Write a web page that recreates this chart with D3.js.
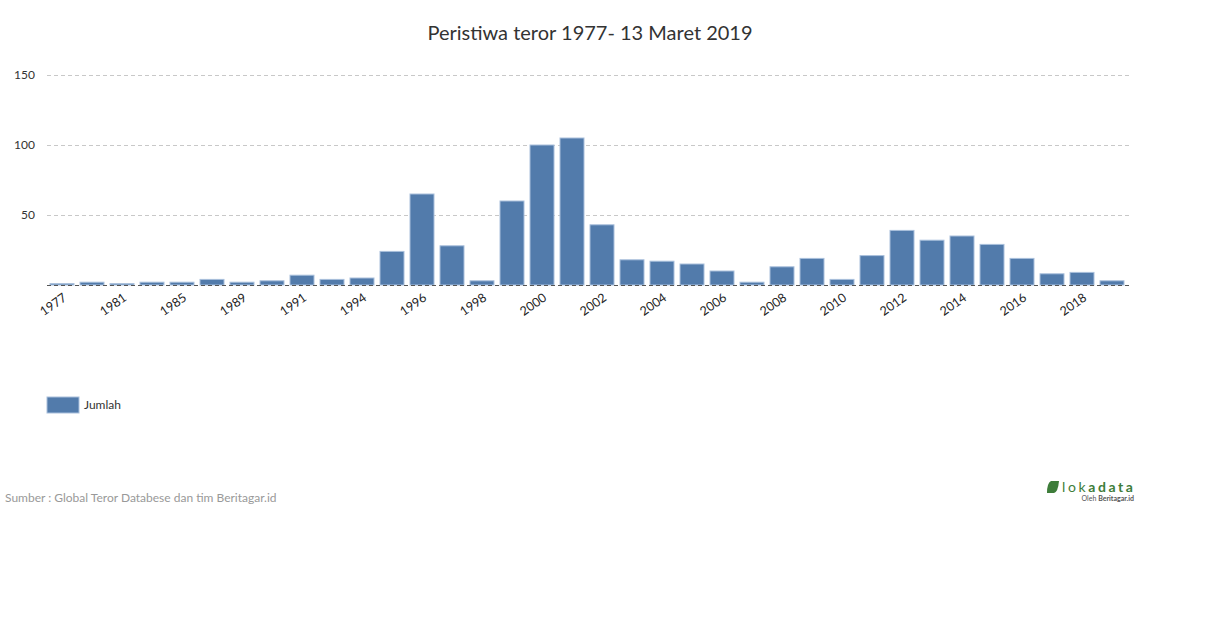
<!DOCTYPE html>
<html>
<head>
<meta charset="utf-8">
<script src="https://cdn.jsdelivr.net/npm/d3@7"></script>
<style>
	body { margin: 0; background: #fff; font-family: Lato, "Open Sans", sans-serif; }
	svg text { font-family: Lato, "Open Sans", sans-serif; }
</style>
</head>
<body>
<div id="chart"></div>
<script>
var years = ["1977", "1979", "1981", "1983", "1985", "1987", "1989", "1990", "1991", "1993",
	"1994", "1995", "1996", "1997", "1998", "1999", "2000", "2001", "2002", "2003",
	"2004", "2005", "2006", "2007", "2008", "2009", "2010", "2011", "2012", "2013",
	"2014", "2015", "2016", "2017", "2018", "2019"];
var jumlah = [1, 2, 1, 2, 2, 4, 2, 3, 7, 4,
	5, 24, 65, 28, 3, 60, 100, 105, 43, 18,
	17, 15, 10, 2, 13, 19, 4, 21, 39, 32,
	35, 29, 19, 8, 9, 3];
var labelYears = ["1977", "1981", "1985", "1989", "1991", "1994", "1996", "1998", "2000", "2002",
	"2004", "2006", "2008", "2010", "2012", "2014", "2016", "2018"];
var yTicks = [0, 50, 100, 150];

var width = 1210, height = 628;
var margin = {top: 75, left: 47, right: 80, bottom: 343};

var svg = d3.select("#chart").append("svg")
	.attr("width", width)
	.attr("height", height);

var x = d3.scaleBand()
	.domain(years)
	.range([margin.left, margin.left + 1080])
	.paddingInner(0.2)
	.paddingOuter(0.1);

var y = d3.scaleLinear()
	.domain([0, 150])
	.range([285, 75]);

// title
svg.append("text")
	.attr("x", 590)
	.attr("y", 40)
	.attr("text-anchor", "middle")
	.style("font-size", "20px")
	.style("fill", "#333")
	.text("Peristiwa teror 1977- 13 Maret 2019");

// gridlines
var grid = svg.append("g");
grid.selectAll("line")
		.data(yTicks.filter(function(d) { return d > 0; }))
	.enter().append("line")
		.attr("x1", 47)
		.attr("x2", 1130)
		.attr("y1", function(d) { return y(d) + 0.5; })
		.attr("y2", function(d) { return y(d) + 0.5; })
		.style("stroke", "#c8c8c8")
		.style("stroke-dasharray", "4,3");

// y labels
svg.append("g").selectAll("text")
		.data(yTicks.filter(function(d) { return d > 0; }))
	.enter().append("text")
		.attr("x", 35)
		.attr("y", function(d) { return y(d) + 4; })
		.attr("text-anchor", "end")
		.style("font-size", "12px")
		.style("fill", "#333")
		.text(function(d) { return d; });

// bars
svg.append("g").selectAll("rect")
		.data(jumlah)
	.enter().append("rect")
		.attr("x", function(d, i) { return x(years[i]); })
		.attr("y", function(d) { return y(d); })
		.attr("width", x.bandwidth())
		.attr("height", function(d) { return y(0) - y(d); })
		.style("fill", "#527bab")
		.style("stroke", "#a9c0dc")
		.style("stroke-width", 1);

// x axis (dashed baseline)
var xAxis = d3.axisBottom(x)
	.tickValues(labelYears)
	.tickSize(0)
	.tickPadding(0);

var gx = svg.append("g")
	.attr("transform", "translate(0," + y(0) + ")")
	.call(xAxis);
gx.select(".domain").remove();
gx.append("line")
	.attr("x1", 47)
	.attr("x2", 1130)
	.attr("y1", 0.5)
	.attr("y2", 0.5)
	.style("stroke", "#555")
	.style("stroke-dasharray", "4,3");
gx.selectAll(".tick text")
	.style("font-size", "12.5px")
	.style("fill", "#222")
	.style("font-family", "Lato, sans-serif")
	.attr("text-anchor", "end")
	.attr("y", 0)
	.attr("dy", "0.35em")
	.attr("transform", "translate(3,11) rotate(-35)");

// legend
var legend = svg.append("g").attr("transform", "translate(47,397)");
legend.append("rect")
	.attr("width", 32)
	.attr("height", 16)
	.style("fill", "#527bab")
	.style("stroke", "#a9c0dc");
legend.append("text")
	.attr("x", 37)
	.attr("y", 12)
	.style("font-size", "12px")
	.style("fill", "#333")
	.text("Jumlah");

// source
svg.append("text")
	.attr("x", 5)
	.attr("y", 502)
	.style("font-size", "12px")
	.style("fill", "#999")
	.text("Sumber : Global Teror Databese dan tim Beritagar.id");

// logo
var logo = svg.append("g").attr("transform", "translate(1047,481)");
logo.append("path")
	.attr("d", "M4,0 H12 Q11,11 7,12 H0 Q0,2 4,0 Z")
	.style("fill", "#3e7d3a");
logo.append("text")
	.attr("x", 15)
	.attr("y", 11)
	.style("font-size", "14px")
	.style("letter-spacing", "2.6px")
	.style("fill", "#3e7d3a")
	.html('lok<tspan style="font-weight:bold">a</tspan><tspan style="font-weight:bold">data</tspan>');
logo.append("text")
	.attr("x", 87)
	.attr("y", 20)
	.attr("text-anchor", "end")
	.style("font-size", "7px")
	.style("fill", "#555")
	.html('Oleh <tspan style="font-weight:bold">Beritagar.id</tspan>');
</script>
</body>
</html>
